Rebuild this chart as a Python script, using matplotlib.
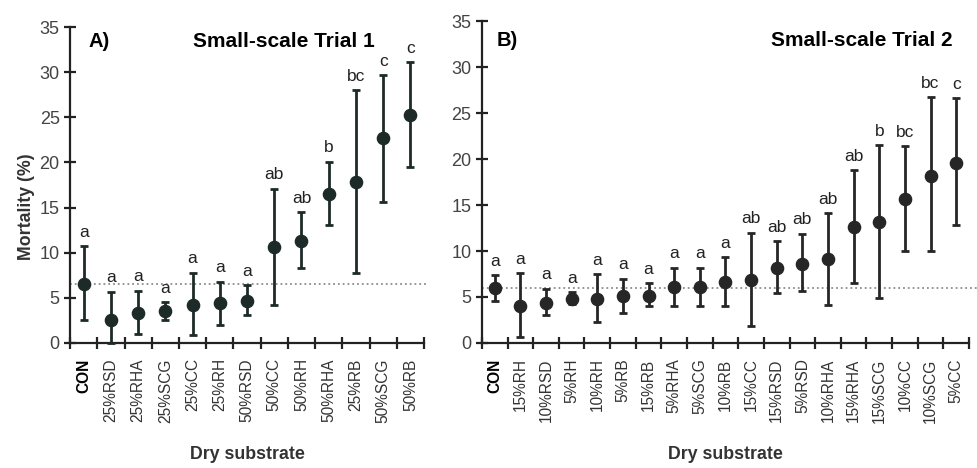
import numpy as np
import matplotlib.pyplot as plt

plt.rcParams['font.family'] = ['Liberation Sans', 'DejaVu Sans']

# Small-scale Trial 1
labels1 = ['CON', '25%RSD', '25%RHA', '25%SCG', '25%CC', '25%RH', '50%RSD',
           '50%CC', '50%RH', '50%RHA', '25%RB', '50%SCG', '50%RB']
mean1 = [6.5, 2.5, 3.3, 3.5, 4.2, 4.4, 4.7, 10.6, 11.3, 16.5, 17.8, 22.7, 25.2]
upper1 = [10.7, 5.7, 5.8, 4.5, 7.8, 6.8, 6.4, 17.1, 14.5, 20.1, 28.0, 29.7, 31.1]
lower1 = [2.5, 0.0, 1.0, 2.6, 0.9, 2.0, 3.1, 4.2, 8.3, 13.1, 7.7, 15.6, 19.5]
letters1 = ['a', 'a', 'a', 'a', 'a', 'a', 'a', 'ab', 'ab', 'b', 'bc', 'c', 'c']

# Small-scale Trial 2
labels2 = ['CON', '15%RH', '10%RSD', '5%RH', '10%RH', '5%RB', '15%RB', '5%RHA',
           '5%SCG', '10%RB', '15%CC', '15%RSD', '5%RSD', '10%RHA', '15%RHA',
           '15%SCG', '10%CC', '10%SCG', '5%CC']
mean2 = [6.0, 4.0, 4.4, 4.8, 4.8, 5.1, 5.1, 6.1, 6.1, 6.6, 6.9, 8.2, 8.6, 9.1,
         12.6, 13.1, 15.6, 18.2, 19.6]
upper2 = [7.4, 7.6, 5.9, 5.5, 7.5, 7.0, 6.5, 8.2, 8.2, 9.3, 12.0, 11.1, 11.9,
          14.1, 18.8, 21.5, 21.4, 26.7, 26.6]
lower2 = [4.6, 0.7, 3.0, 4.2, 2.3, 3.3, 4.0, 4.0, 4.0, 4.0, 1.9, 5.4, 5.6, 4.1,
          6.5, 4.9, 10.0, 10.0, 12.8]
letters2 = ['a', 'a', 'a', 'a', 'a', 'a', 'a', 'a', 'a', 'a', 'ab', 'ab', 'ab',
            'ab', 'ab', 'b', 'bc', 'bc', 'c']

fig = plt.figure(figsize=(9.77, 4.68), dpi=100)
ax1 = fig.add_axes([0.0717, 0.2671, 0.3623, 0.6752])
ax2 = fig.add_axes([0.4933, 0.2671, 0.4985, 0.6880])


def draw_panel(ax, labels, mean, upper, lower, letters, color, ref_x1):
    n = len(labels)
    x = np.arange(n)
    mean = np.array(mean)
    err = [mean - np.array(lower), np.array(upper) - mean]
    ax.errorbar(x, mean, yerr=err, fmt='o', color=color, ms=8.8,
                elinewidth=2.0, capsize=2.6, capthick=2.0, zorder=3,
                clip_on=False)
    for xi, top, letter in zip(x, upper, letters):
        ax.annotate(letter, (xi, top), xytext=(0, 4.5), textcoords='offset points',
                    ha='center', va='bottom', fontsize=12.5, color='#222222')
    ax.plot([-0.5, ref_x1], [mean[0], mean[0]], ls=':', color='#8c8c8c',
            lw=1.3, zorder=1, clip_on=False)
    ax.set_xlim(-0.5, n - 0.5)
    ax.set_ylim(0, 35)
    ax.set_yticks(range(0, 36, 5))
    ax.set_xticks(np.arange(-0.5, n, 1.0))
    ax.set_xticklabels([])
    ax.set_xticks(x, minor=True)
    ax.set_xticklabels(labels, minor=True, rotation=90, fontsize=11.2,
                       color='#333333')
    ax.get_xticklabels(minor=True)[0].set_fontweight('bold')
    ax.get_xticklabels(minor=True)[0].set_color('black')
    ax.tick_params(axis='x', which='minor', length=0, pad=11)
    ax.tick_params(axis='both', which='major', direction='inout', length=8,
                   width=1.6, color='#222222', labelsize=13,
                   labelcolor='#444444')
    for s in ['top', 'right']:
        ax.spines[s].set_visible(False)
    for s in ['left', 'bottom']:
        ax.spines[s].set_linewidth(1.6)
        ax.spines[s].set_color('#222222')
    ax.set_xlabel('Dry substrate', fontsize=12.8, fontweight='bold',
                  color='#333333', labelpad=17)


draw_panel(ax1, labels1, mean1, upper1, lower1, letters1, '#1d2b28', 12.62)
draw_panel(ax2, labels2, mean2, upper2, lower2, letters2, '#262626', 18.8)

ax1.set_ylabel('Mortality (%)', fontsize=12.8, fontweight='bold', color='#333333')
ax1.yaxis.set_label_coords(-0.10, 0.43)

ax1.text(0.051, 0.953, 'A)', transform=ax1.transAxes, fontsize=14.5,
         fontweight='bold', va='center', ha='left')
ax1.text(0.605, 0.953, 'Small-scale Trial 1', transform=ax1.transAxes,
         fontsize=15, fontweight='bold', va='center', ha='center')
ax2.text(0.031, 0.938, 'B)', transform=ax2.transAxes, fontsize=14.5,
         fontweight='bold', va='center', ha='left')
ax2.text(0.78, 0.938, 'Small-scale Trial 2', transform=ax2.transAxes,
         fontsize=15, fontweight='bold', va='center', ha='center')

fig.savefig('out.png', dpi=100)
